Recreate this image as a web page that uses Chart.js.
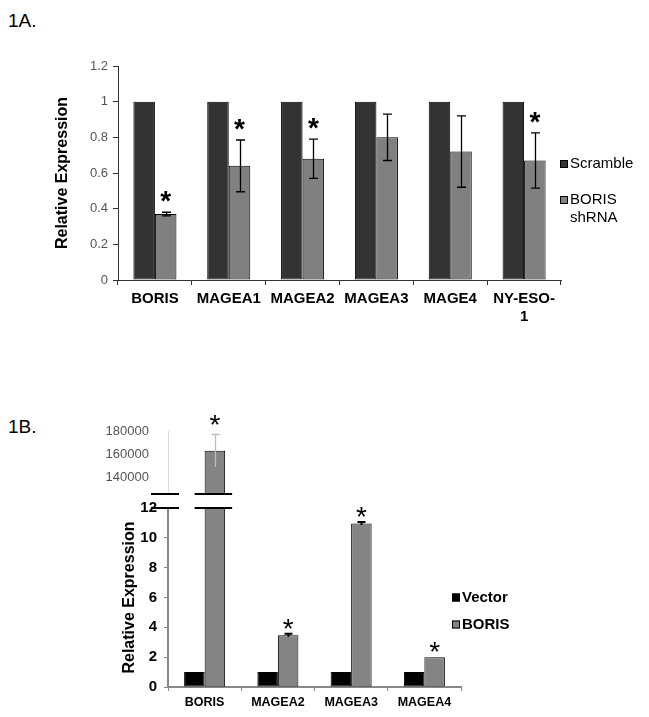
<!DOCTYPE html>
<html><head><meta charset="utf-8">
<script src="https://cdn.jsdelivr.net/npm/chart.js@4/dist/chart.umd.min.js"></script>
<style>
html,body{margin:0;padding:0;background:#fff;}
#wrap{position:relative;width:649px;height:717px;overflow:hidden;background:#fff;}
#wrap canvas{position:absolute;left:0;top:0;}
.panel{position:absolute;left:8px;font:19px 'Liberation Sans',Arial,sans-serif;line-height:1;color:#000;}
</style></head><body>
<div id="wrap">
<div class="panel" style="top:11px">1A.</div>
<div class="panel" style="top:417px">1B.</div>
<canvas id="cA" width="649" height="717"></canvas>
<canvas id="cBu" width="649" height="717"></canvas>
<canvas id="cBl" width="649" height="717"></canvas>
</div>
<script>
// ---------- Panel 1A data ----------
const categoriesA = ['BORIS', 'MAGEA1', 'MAGEA2', 'MAGEA3', 'MAGE4', ['NY-ESO-', '1']];
const seriesNamesA = ['Scramble', 'BORIS shRNA'];
const scrambleA = [1, 1, 1, 1, 1, 1];
const shrnaA = [0.37, 0.64, 0.68, 0.80, 0.72, 0.67];
const shrnaErrA = [0.01, 0.145, 0.11, 0.13, 0.20, 0.155];
const sigA = [true, true, true, false, false, true];
const yTicksA = [0, 0.2, 0.4, 0.6, 0.8, 1, 1.2];

// ---------- Panel 1B data ----------
const categoriesB = ['BORIS', 'MAGEA2', 'MAGEA3', 'MAGEA4'];
const seriesNamesB = ['Vector', 'BORIS'];
const vectorB = [1, 1, 1, 1];
const borisB = [163000, 3.47, 10.96, 2.0];
const borisErrB = [14000, 0.1, 0.1, 0];
const sigB = [true, true, true, true];
const yTicksBUpper = [140000, 160000, 180000];
const yTicksBLower = [0, 2, 4, 6, 8, 10, 12];

const F = "'Liberation Sans', Arial, sans-serif";

const errorBarPlugin = {
  id: 'errbars',
  afterDatasetsDraw(chart, args, o) {
    if (!o || !o.errors) return;
    const ctx = chart.ctx, a = chart.chartArea, y = chart.scales.y;
    const meta = chart.getDatasetMeta(o.dataset);
    const vals = chart.data.datasets[o.dataset].data;
    ctx.save();
    ctx.beginPath(); ctx.rect(a.left, a.top - 1, a.right - a.left, a.bottom - a.top + 1); ctx.clip();
    ctx.strokeStyle = o.color; ctx.lineWidth = o.width;
    meta.data.forEach((bar, i) => {
      const e = o.errors[i]; if (!e) return;
      const v = vals[i];
      const y1 = y.getPixelForValue(v + e), y2 = y.getPixelForValue(v - e);
      const c = o.cap / 2, x = Math.round(bar.x) + 0.5;
      ctx.beginPath();
      ctx.moveTo(x, y1); ctx.lineTo(x, y2);
      ctx.moveTo(x - c, y1); ctx.lineTo(x + c, y1);
      if (o.lowerCap) { ctx.moveTo(x - c, y2); ctx.lineTo(x + c, y2); }
      ctx.stroke();
    });
    ctx.restore();
  }
};

const starPlugin = {
  id: 'stars',
  afterDatasetsDraw(chart, args, o) {
    if (!o || !o.flags) return;
    const ctx = chart.ctx, y = chart.scales.y;
    const meta = chart.getDatasetMeta(o.dataset);
    const vals = chart.data.datasets[o.dataset].data;
    ctx.save();
    ctx.font = o.font; ctx.fillStyle = '#000'; ctx.textAlign = 'center'; ctx.textBaseline = 'alphabetic';
    meta.data.forEach((bar, i) => {
      if (!o.flags[i]) return;
      const v = vals[i]; if (v > y.max || v < y.min) return;
      const top = y.getPixelForValue(v + (o.errors[i] || 0));
      ctx.fillText('*', bar.x, top - o.gap + o.shift);
    });
    ctx.restore();
  }
};

const legendPlugin = {
  id: 'sideLegend',
  afterDraw(chart, args, o) {
    if (!o || o.x === undefined) return;
    const ctx = chart.ctx;
    ctx.save();
    ctx.font = o.font; ctx.textBaseline = 'middle'; ctx.textAlign = 'left';
    let yy = o.y;
    chart.data.datasets.forEach(ds => {
      const lines = ds.label.split(' ');
      ctx.fillStyle = ds.backgroundColor;
      ctx.fillRect(o.x, yy - o.box / 2, o.box, o.box);
      ctx.strokeStyle = '#000'; ctx.lineWidth = 1;
      ctx.strokeRect(o.x + 0.5, yy - o.box / 2 + 0.5, o.box - 1, o.box - 1);
      ctx.fillStyle = '#000';
      lines.forEach((ln, k) => ctx.fillText(ln, o.x + o.box + o.gap, yy + k * o.lineH));
      yy += o.itemGap + (lines.length - 1) * o.lineH;
    });
    ctx.restore();
  }
};

const breakPlugin = {
  id: 'axisBreak',
  afterDraw(chart, args, o) {
    if (!o || !o.edge) return;
    const ctx = chart.ctx, a = chart.chartArea;
    const yy = o.edge === 'top' ? a.top : a.bottom;
    const bar = chart.getDatasetMeta(o.dataset).data[o.index];
    ctx.save(); ctx.strokeStyle = '#000'; ctx.lineWidth = 2;
    ctx.beginPath();
    ctx.moveTo(a.left - 17, yy); ctx.lineTo(a.left + 11, yy);
    ctx.moveTo(bar.x - bar.width / 2 - 10, yy); ctx.lineTo(bar.x + bar.width / 2 + 7, yy);
    ctx.stroke(); ctx.restore();
  }
};

Chart.register(errorBarPlugin, starPlugin, legendPlugin, breakPlugin);

function barDs(label, data, color) {
  return { label, data, backgroundColor: color, borderColor: '#000', borderWidth: 1, borderSkipped: false, clip: 0 };
}

// ---------- Chart 1A ----------
new Chart(document.getElementById('cA'), {
  type: 'bar',
  data: { labels: categoriesA, datasets: [
    barDs(seriesNamesA[0], scrambleA, '#333333'),
    barDs(seriesNamesA[1], shrnaA, '#808080')
  ]},
  options: {
    responsive: false, animation: false,
    layout: { padding: { left: 49, top: 66, right: 88, bottom: 387 } },
    datasets: { bar: { categoryPercentage: 0.583, barPercentage: 1 } },
    plugins: {
      legend: { display: false }, tooltip: { enabled: false },
      errbars: { dataset: 1, errors: shrnaErrA, color: '#000', width: 1.3, cap: 9, lowerCap: true },
      stars: { dataset: 1, flags: sigA, errors: shrnaErrA, font: 'bold 28px ' + F, gap: 18, shift: 16 },
      sideLegend: { x: 560, y: 164, box: 8, gap: 2, lineH: 18, itemGap: 36, font: '15px ' + F }
    },
    scales: {
      x: {
        grid: { display: true, drawOnChartArea: false, tickLength: 5, color: '#333', offset: true },
        border: { color: '#333', width: 1 },
        ticks: { font: { family: F, size: 15, weight: 'bold' }, color: '#000', padding: 5, maxRotation: 0, autoSkip: false },
        afterFit: s => { s.height = 50; }
      },
      y: {
        min: 0, max: 1.2,
        afterBuildTicks: s => { s.ticks = yTicksA.map(v => ({ value: v })); },
        grid: { drawOnChartArea: false, tickLength: 5, color: '#333' },
        border: { color: '#333', width: 1 },
        ticks: { font: { family: F, size: 13 }, color: '#555', padding: 5, callback: v => String(v) },
        title: { display: true, text: 'Relative Expression', font: { family: F, size: 16, weight: 'bold' }, color: '#000', padding: { top: 4, bottom: 0 } },
        afterFit: s => { s.width = 69; }
      }
    }
  }
});

// ---------- Chart 1B upper (broken axis) ----------
new Chart(document.getElementById('cBu'), {
  type: 'bar',
  data: { labels: categoriesB, datasets: [
    barDs(seriesNamesB[0], vectorB, '#000000'),
    barDs(seriesNamesB[1], borisB, '#848484')
  ]},
  options: {
    responsive: false, animation: false,
    layout: { padding: { left: 90, top: 431, right: 188, bottom: 223 } },
    datasets: { bar: { categoryPercentage: 0.56, barPercentage: 1 } },
    plugins: {
      legend: { display: false }, tooltip: { enabled: false },
      errbars: { dataset: 1, errors: borisErrB, color: '#bdbdbd', width: 1.3, cap: 8, lowerCap: false },
      stars: { dataset: 1, flags: sigB, errors: borisErrB, font: '28px ' + F, gap: 16, shift: 16 },
      axisBreak: { edge: 'bottom', dataset: 1, index: 0 }
    },
    scales: {
      x: { display: false },
      y: {
        min: 125900, max: 180000,
        afterBuildTicks: s => { s.ticks = yTicksBUpper.map(v => ({ value: v })); },
        grid: { display: false },
        border: { display: true, color: '#dddddd', width: 1 },
        ticks: { font: { family: F, size: 13 }, color: '#555', padding: 11, callback: v => String(v) },
        afterFit: s => { s.width = 78; }
      }
    }
  }
});

// ---------- Chart 1B lower ----------
new Chart(document.getElementById('cBl'), {
  type: 'bar',
  data: { labels: categoriesB, datasets: [
    barDs(seriesNamesB[0], vectorB, '#000000'),
    barDs(seriesNamesB[1], borisB, '#848484')
  ]},
  options: {
    responsive: false, animation: false,
    layout: { padding: { left: 116, top: 508, right: 188, bottom: 0 } },
    datasets: { bar: { categoryPercentage: 0.56, barPercentage: 1 } },
    plugins: {
      legend: { display: false }, tooltip: { enabled: false },
      errbars: { dataset: 1, errors: borisErrB, color: '#000', width: 2, cap: 8, lowerCap: false },
      stars: { dataset: 1, flags: sigB, errors: borisErrB, font: '28px ' + F, gap: 12, shift: 16 },
      sideLegend: { x: 452, y: 597.5, box: 8, gap: 2, lineH: 18, itemGap: 27, font: 'bold 15px ' + F },
      axisBreak: { edge: 'top', dataset: 1, index: 0 }
    },
    scales: {
      x: {
        grid: { display: true, drawOnChartArea: false, tickLength: 4, color: '#888', offset: true },
        border: { color: '#888', width: 2 },
        ticks: { font: { family: F, size: 12.5, weight: 'bold' }, color: '#000', padding: 4, maxRotation: 0, autoSkip: false },
        afterFit: s => { s.height = 30; }
      },
      y: {
        min: 0, max: 12,
        afterBuildTicks: s => { s.ticks = yTicksBLower.map(v => ({ value: v })); },
        grid: { drawOnChartArea: false, tickLength: 4, color: '#888' },
        border: { color: '#888', width: 2 },
        ticks: { font: { family: F, size: 15, weight: 'bold' }, color: '#000', padding: 7, callback: v => String(v) },
        title: { display: true, text: 'Relative Expression', font: { family: F, size: 16, weight: 'bold' }, color: '#000', padding: { top: 4, bottom: 0 } },
        afterFit: s => { s.width = 52; }
      }
    }
  }
});
</script>
</body></html>
